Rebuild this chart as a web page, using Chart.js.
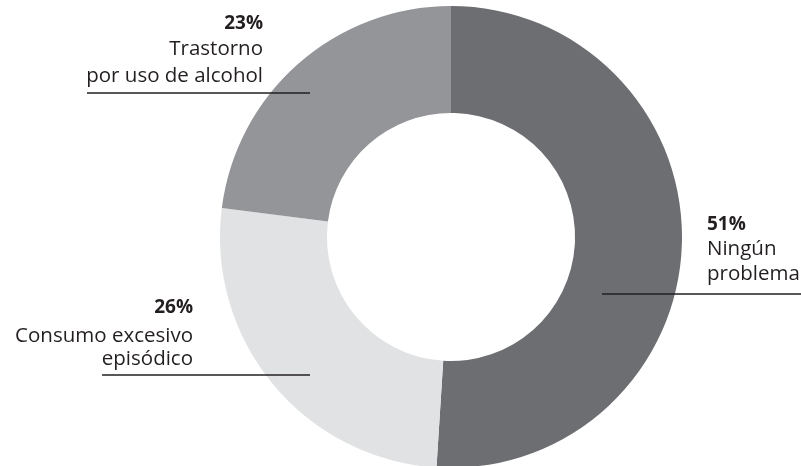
<!DOCTYPE html>
<html>
<head>
<meta charset="utf-8">
<script src="https://cdn.jsdelivr.net/npm/chart.js@4"></script>
<style>
  html, body { margin: 0; padding: 0; background: #fff; overflow: hidden; }
  #chart { display: block; }
</style>
</head>
<body>
<canvas id="chart" width="801" height="480"></canvas>
<script>
// Data
const categories = ['Ningún problema', 'Consumo excesivo episódico', 'Trastorno por uso de alcohol'];
const values = [51, 26, 23];
const sliceColors = ['#6d6e71', '#e1e2e3', '#939598'];
const labelLines = [['Ningún', 'problema'], ['Consumo excesivo', 'episódico'], ['Trastorno', 'por uso de alcohol']];

// Where each label block and its leader line sit
const labelLayout = [
  { x: 707, align: 'left', baselines: [230, 255, 280], line: [602, 801, 294] },
  { x: 193, align: 'right', baselines: [313, 342, 365], line: [102, 310, 375] },
  { x: 263, align: 'right', baselines: [29, 55, 82], line: [87, 310, 93] }
];

const textColor = '#231f20';

// Draws the percentage + name labels with their leader lines
const calloutPlugin = {
  id: 'callouts',
  afterDraw(chart) {
    const ctx = chart.ctx;
    const data = chart.data.datasets[0].data;
    ctx.save();
    data.forEach((v, i) => {
      const lay = labelLayout[i];
      ctx.textAlign = lay.align;
      ctx.textBaseline = 'alphabetic';
      ctx.fillStyle = textColor;

      ctx.font = 'bold 19px "Open Sans"';
      ctx.fillText(v + '%', lay.x, lay.baselines[0]);

      ctx.font = '20.5px "Open Sans"';
      labelLines[i].forEach((txt, j) => {
        ctx.fillText(txt, lay.x, lay.baselines[j + 1]);
      });

      ctx.strokeStyle = textColor;
      ctx.lineWidth = 1.5;
      ctx.beginPath();
      ctx.moveTo(lay.line[0], lay.line[2]);
      ctx.lineTo(lay.line[1], lay.line[2]);
      ctx.stroke();
    });
    ctx.restore();
  }
};

new Chart(document.getElementById('chart').getContext('2d'), {
  type: 'doughnut',
  data: {
    labels: categories,
    datasets: [{
      data: values,
      backgroundColor: sliceColors,
      borderWidth: 0
    }]
  },
  options: {
    responsive: false,
    animation: false,
    events: [],
    cutout: '53.7%',
    layout: {
      padding: { left: 220, right: 119, top: 6, bottom: 12 }
    },
    plugins: {
      legend: { display: false },
      tooltip: { enabled: false }
    }
  },
  plugins: [calloutPlugin]
});
</script>
</body>
</html>
